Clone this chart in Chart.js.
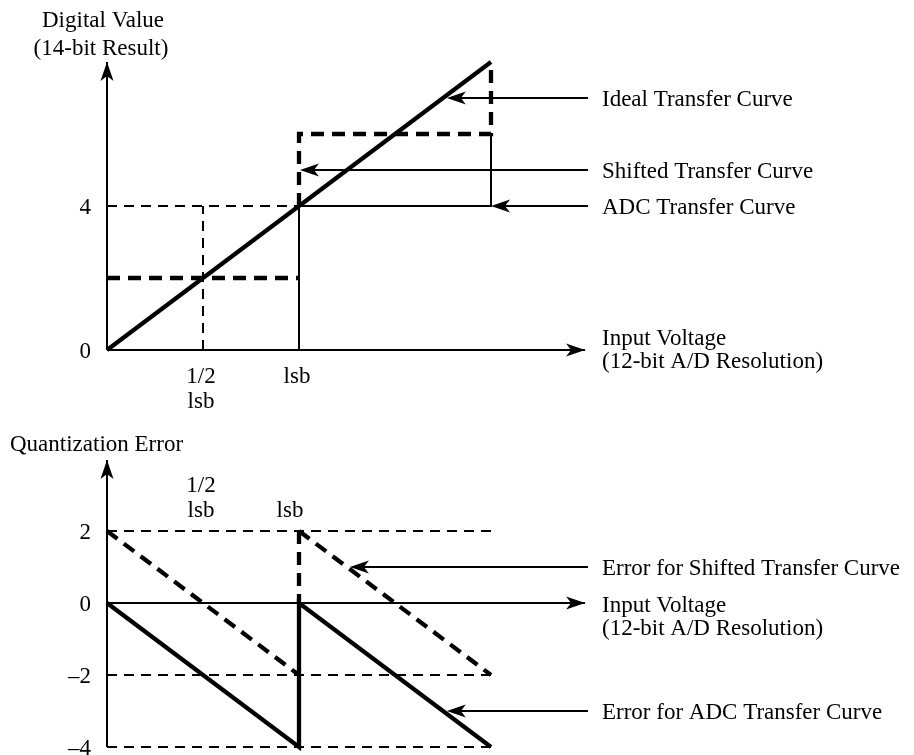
<!DOCTYPE html>
<html>
<head>
<meta charset="utf-8">
<script src="https://cdn.jsdelivr.net/npm/chart.js@4.4.1/dist/chart.umd.min.js"></script>
<style>
  html, body { margin: 0; padding: 0; background: #fff; }
  #c { display: block; }
</style>
</head>
<body>
<canvas id="c" width="914" height="755"></canvas>
<script>
// ---------- DATA (x in lsb, y in output codes) ----------
// Top panel: transfer curves
const idealCurve   = [[0, 0], [2, 8]];
const adcCurve     = [[1, 0], [1, 4], [2, 4], [2, 6]];
const shiftedCurve = [[[0, 2], [1, 2]], [[1, 4], [1, 6], [2, 6], [2, 8]]];
const topGuides    = [[[0, 4], [1, 4]], [[0.5, 0], [0.5, 4]]];
const topAxes      = [[[0, 0], [2.49, 0]], [[0, 0], [0, 8]]];
const topYTicks    = [{ v: 0, t: "0" }, { v: 4, t: "4" }];
const topXTicks    = [{ v: 0.5, t: ["1/2", "lsb"] }, { v: 1, t: ["lsb"] }];
const topPointers  = [
  { y: 7, tip: 1.77,  text: ["Ideal Transfer Curve"] },
  { y: 5, tip: 1.005, text: ["Shifted Transfer Curve"] },
  { y: 4, tip: 2.0,   text: ["ADC Transfer Curve"] }
];

// Bottom panel: quantization error
const adcError      = [[0, 0], [1, -4], [1, 0], [2, -4]];
const shiftedError  = [[[0, 2], [1, -2]], [[1, 2], [1, 0]], [[1, 2], [2, -2]]];
const bottomGuides  = [[[0, 2], [2, 2]], [[0, -2], [2, -2]], [[0, -4], [2, -4]]];
const bottomAxes    = [[[0, 0], [2.49, 0]], [[0, -4], [0, 3.97]]];
const bottomYTicks  = [{ v: 2, t: "2" }, { v: 0, t: "0" }, { v: -2, t: "\u20132" }, { v: -4, t: "\u20134" }];
const bottomXTicks  = [{ v: 0.5, t: ["1/2", "lsb"] }, { v: 1, t: ["lsb"] }];
const bottomPointers = [
  { y: 1,  tip: 1.265, text: ["Error for Shifted Transfer Curve"] },
  { y: -3, tip: 1.77,  text: ["Error for ADC Transfer Curve"] }
];

// ---------- BUILD DATASETS ----------
const toPts = seg => seg.map(p => ({ x: p[0], y: p[1] }));
const datasets = [];
function addLine(seg, axis, width, dash) {
  datasets.push({
    data: toPts(seg), yAxisID: axis, showLine: true, pointRadius: 0,
    borderColor: '#000', borderWidth: width, borderDash: dash || [],
    fill: false, tension: 0, clip: false, borderCapStyle: 'butt', borderJoinStyle: 'miter'
  });
}
const THIN = 2, THICK = 4.3;
const THIN_DASH = [10, 7], THICK_DASH = [13, 8];

topAxes.forEach(s => addLine(s, 'yTop', THIN));
topGuides.forEach(s => addLine(s, 'yTop', THIN, THIN_DASH));
addLine(adcCurve, 'yTop', THIN);
shiftedCurve.forEach(s => addLine(s, 'yTop', THICK, THICK_DASH));
addLine(idealCurve, 'yTop', THICK);
topPointers.forEach(p => addLine([[2.505, p.y], [p.tip + 0.03, p.y]], 'yTop', THIN));

bottomAxes.forEach(s => addLine(s, 'yBot', THIN));
bottomGuides.forEach(s => addLine(s, 'yBot', THIN, THIN_DASH));
shiftedError.forEach(s => addLine(s, 'yBot', THICK, THICK_DASH));
addLine(adcError, 'yBot', THICK);
bottomPointers.forEach(p => addLine([[2.505, p.y], [p.tip + 0.03, p.y]], 'yBot', THIN));

// ---------- ANNOTATION PLUGIN ----------
const FONT = '23px "Liberation Serif", "Times New Roman", serif';

function arrowHead(ctx, x, y, dx, dy) {
  const len = Math.hypot(dx, dy); const ux = dx / len, uy = dy / len;
  const px = -uy, py = ux;
  const L = 19, W = 6.5, N = 14;
  ctx.beginPath();
  ctx.moveTo(x, y);
  ctx.lineTo(x - ux * L + px * W, y - uy * L + py * W);
  ctx.lineTo(x - ux * N, y - uy * N);
  ctx.lineTo(x - ux * L - px * W, y - uy * L - py * W);
  ctx.closePath();
  ctx.fill();
}

const annot = {
  id: 'annot',
  afterDatasetsDraw(chart) {
    const ctx = chart.ctx, xs = chart.scales.x;
    const yT = chart.scales.yTop, yB = chart.scales.yBot;
    ctx.save();
    ctx.fillStyle = '#000';
    // axis arrowheads
    [[topAxes, yT], [bottomAxes, yB]].forEach(([axes, ys]) => {
      axes.forEach(seg => {
        const a = seg[0], b = seg[1];
        const x1 = xs.getPixelForValue(a[0]), y1 = ys.getPixelForValue(a[1]);
        const x2 = xs.getPixelForValue(b[0]), y2 = ys.getPixelForValue(b[1]);
        arrowHead(ctx, x2, y2, x2 - x1, y2 - y1);
      });
    });
    // pointer arrowheads + texts
    ctx.font = FONT;
    ctx.textBaseline = 'alphabetic';
    [[topPointers, yT], [bottomPointers, yB]].forEach(([ps, ys]) => {
      ps.forEach(p => {
        const y = ys.getPixelForValue(p.y);
        const tx = xs.getPixelForValue(p.tip);
        arrowHead(ctx, tx, y, -1, 0);
        ctx.textAlign = 'left';
        p.text.forEach((t, i) => ctx.fillText(t, 602, y + 8 + i * 23));
      });
    });
    // x-axis arrow labels
    ctx.textAlign = 'left';
    const yt0 = yT.getPixelForValue(0), yb0 = yB.getPixelForValue(0);
    ctx.fillText('Input Voltage', 602, yt0 - 5);
    ctx.fillText('(12-bit A/D Resolution)', 602, yt0 + 18);
    ctx.fillText('Input Voltage', 602, yb0 + 9);
    ctx.fillText('(12-bit A/D Resolution)', 602, yb0 + 32);
    // y-axis titles
    ctx.textAlign = 'center';
    ctx.fillText('Digital Value', 103, 27);
    ctx.fillText('(14-bit Result)', 101, 55);
    ctx.textAlign = 'left';
    ctx.fillText('Quantization Error', 10, 451);
    // y ticks
    ctx.textAlign = 'right';
    topYTicks.forEach(t => ctx.fillText(t.t, 91, yT.getPixelForValue(t.v) + 8));
    bottomYTicks.forEach(t => ctx.fillText(t.t, 91, yB.getPixelForValue(t.v) + 8));
    // x ticks
    ctx.textAlign = 'center';
    topXTicks.forEach(t => {
      const x = xs.getPixelForValue(t.v) - 2;
      t.t.forEach((s, i) => ctx.fillText(s, x, yt0 + 33 + i * 25));
    });
    bottomXTicks.forEach((t, k) => {
      const x = xs.getPixelForValue(t.v) - (k === 1 ? 9 : 2);
      const n = t.t.length;
      t.t.forEach((s, i) => ctx.fillText(s, x, yb0 - 86 - (n - 1 - i) * 25));
    });
    ctx.restore();
  }
};

new Chart(document.getElementById('c'), {
  type: 'scatter',
  data: { datasets },
  options: {
    responsive: false, animation: false, events: [],
    layout: { padding: 0 },
    plugins: { legend: { display: false }, tooltip: { enabled: false }, title: { display: false } },
    scales: {
      x:    { type: 'linear', display: false, min: -107 / 192, max: (914 - 107) / 192 },
      yTop: { type: 'linear', display: false, position: 'left', min: -(755 - 350) / 36, max: 350 / 36 },
      yBot: { type: 'linear', display: false, position: 'left', min: -(755 - 603) / 36, max: 603 / 36 }
    }
  },
  plugins: [annot]
});
</script>
</body>
</html>
